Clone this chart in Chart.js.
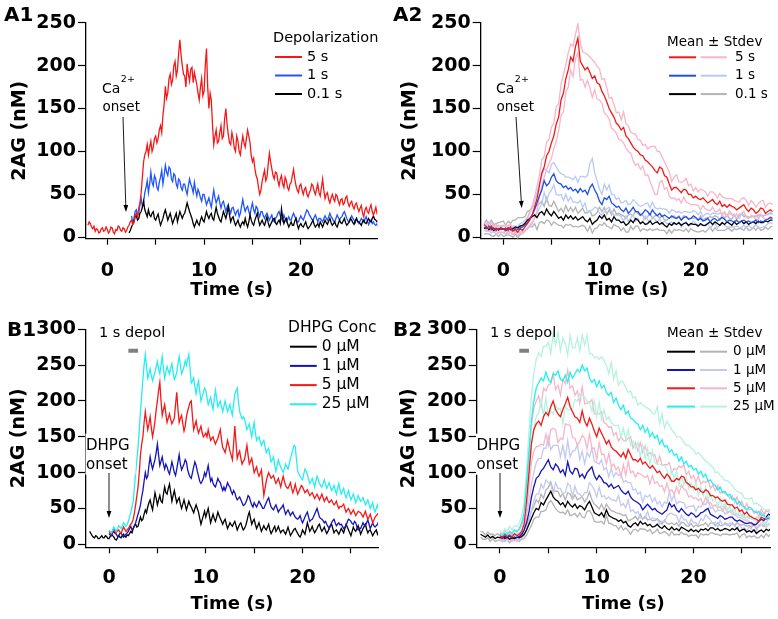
<!DOCTYPE html>
<html lang="en">
<head>
<meta charset="UTF-8" />
<title>2AG time courses</title>
<script src="https://cdn.jsdelivr.net/npm/chart.js"></script>
<style>
  html, body { margin: 0; padding: 0; background: #fff; }
  #wrap { position: relative; width: 778px; height: 619px; }
  #wrap canvas { position: absolute; left: 0; top: 0; }
</style>
</head>
<body>
<div id="wrap">
  <canvas id="a1" width="778" height="619"></canvas>
  <canvas id="a2" width="778" height="619"></canvas>
  <canvas id="b1" width="778" height="619"></canvas>
  <canvas id="b2" width="778" height="619"></canvas>
</div>
<script>
// traces start at -2 s; single-cell traces (A1, B1) have one value each 0.125 s
// (16 per row below), the averaged traces (A2, B2) one value each 0.25 s (8 per row)
const T_START = -2, STEP_CELL = 0.125, STEP_MEAN = 0.25;
const xTicks = [0, 5, 10, 15, 20, 25];
const xLabels = [0, 10, 20];
const yTicksA = [0, 50, 100, 150, 200, 250];
const yTicksB = [0, 50, 100, 150, 200, 250, 300];
const aLabels = ['5 s', '1 s', '0.1 s'];
const bLabels = ['0 \u00b5M', '1 \u00b5M', '5 \u00b5M', '25 \u00b5M'];
const depolTimes = [2, 3];   // 1 s depolarization
const depolLevel = [270, 270];

// ---- A1: single cells, 2AG (nM)
const a1Red5s = [
  14, 18, 16, 12, 10, 13, 7, 10, 9, 5, 6, 10, 11, 7, 8, 12,
  9, 5, 7, 12, 11, 6, 4, 9, 8, 13, 12, 8, 7, 11, 10, 6,
  8, 12, 14, 18, 20, 15, 17, 25, 28, 24, 34, 40, 52, 70, 88, 96,
  100, 108, 96, 105, 112, 100, 105, 115, 118, 110, 115, 125, 130, 122, 142, 155,
  176, 162, 168, 185, 190, 178, 183, 200, 205, 188, 195, 215, 230, 212, 200, 190,
  188, 175, 202, 190, 182, 196, 198, 180, 192, 185, 178, 168, 160, 175, 185, 165,
  170, 200, 220, 175, 150, 168, 160, 130, 108, 118, 125, 110, 112, 122, 130, 115,
  118, 138, 150, 132, 120, 110, 108, 122, 115, 104, 100, 118, 112, 100, 96, 108,
  118, 110, 105, 115, 125, 118, 110, 95, 88, 92, 80, 72, 68, 58, 50, 55,
  65, 72, 78, 66, 70, 85, 98, 88, 80, 72, 68, 76, 75, 66, 60, 68,
  72, 62, 58, 70, 66, 58, 55, 62, 64, 72, 79, 68, 60, 55, 52, 60,
  62, 55, 50, 56, 58, 50, 47, 52, 55, 62, 60, 54, 50, 56, 62, 52,
  48, 58, 68, 55, 45, 50, 52, 44, 40, 46, 50, 45, 42, 50, 48, 42,
  38, 44, 45, 38, 40, 46, 48, 40, 36, 40, 42, 36, 33, 38, 40, 34,
  30, 34, 37, 28, 24, 32, 35, 30, 28, 34, 38, 30, 26, 30, 35, 28,
  30];
const a1Blue1s = [
  null, null, null, null, null, null, null, null, null, null, null, null, null, null, null, null,
  null, null, null, null, null, null, null, null, null, null, null, null, null, null, null, null,
  null, null, null, null, 25, 18, 22, 30, 32, 26, 28, 38, 45, 36, 40, 52,
  58, 66, 52, 62, 76, 64, 60, 72, 68, 58, 55, 64, 70, 78, 62, 72,
  84, 76, 72, 82, 80, 68, 65, 74, 72, 62, 58, 68, 66, 58, 55, 62,
  62, 55, 50, 60, 68, 62, 58, 52, 64, 55, 48, 56, 52, 46, 42, 50,
  50, 44, 38, 42, 46, 40, 35, 45, 55, 46, 40, 44, 48, 40, 34, 40,
  42, 36, 30, 35, 38, 32, 28, 34, 35, 30, 26, 30, 32, 24, 28, 36,
  44, 36, 30, 34, 36, 30, 26, 34, 40, 32, 28, 36, 34, 28, 24, 30,
  30, 25, 22, 26, 28, 24, 20, 23, 26, 20, 18, 22, 24, 28, 30, 25,
  22, 19, 26, 22, 18, 21, 24, 20, 20, 25, 28, 24, 22, 18, 18, 22,
  25, 22, 20, 24, 28, 32, 30, 26, 24, 21, 20, 23, 26, 22, 18, 22,
  22, 20, 18, 22, 25, 22, 20, 24, 28, 24, 22, 19, 18, 22, 26, 23,
  20, 23, 24, 28, 30, 26, 22, 19, 18, 22, 25, 22, 20, 17, 22, 19,
  16, 19, 22, 20, 18, 21, 24, 19, 15, 18, 20, 16, 18, 15, 14, 16,
  12];
const a1Black01s = [
  null, null, null, null, null, null, null, null, null, null, null, null, null, null, null, null,
  null, null, null, null, null, null, null, null, null, null, null, null, null, null, null, null,
  null, null, 5, 8, 12, 15, 18, 24, 25, 20, 22, 28, 30, 35, 42, 32,
  28, 24, 32, 26, 24, 28, 30, 22, 20, 24, 27, 20, 14, 18, 22, 28,
  32, 26, 20, 24, 28, 22, 16, 20, 24, 28, 18, 24, 30, 26, 22, 26,
  28, 34, 40, 35, 30, 26, 22, 16, 12, 16, 20, 16, 14, 20, 24, 20,
  18, 24, 30, 25, 22, 26, 28, 22, 20, 28, 35, 28, 24, 20, 18, 24,
  30, 26, 22, 28, 36, 26, 18, 22, 24, 18, 14, 17, 20, 15, 12, 16,
  18, 15, 22, 16, 12, 18, 26, 20, 16, 14, 20, 24, 28, 20, 14, 17,
  20, 16, 14, 19, 24, 17, 12, 15, 18, 21, 22, 17, 15, 18, 20, 16,
  33, 22, 16, 20, 22, 16, 12, 15, 18, 14, 14, 19, 22, 15, 10, 14,
  16, 13, 12, 15, 18, 13, 10, 12, 14, 17, 20, 15, 12, 14, 16, 12,
  18, 15, 12, 16, 20, 17, 15, 19, 22, 17, 14, 16, 18, 14, 12, 16,
  20, 17, 16, 19, 22, 17, 14, 16, 18, 22, 20, 17, 15, 19, 22, 18,
  18, 16, 14, 18, 20, 17, 16, 19, 22, 19, 18, 22, 25, 21, 20, 18,
  20];

// ---- A2: mean and stdev
const a2RedMean = [
  15, 12, 10, 13, 9, 11, 8, 10,
  9, 11, 8, 12, 7, 9, 6, 10,
  8, 12, 16, 20, 26, 35, 45, 60,
  75, 82, 95, 100, 110, 118, 132, 140,
  160, 168, 185, 195, 210, 205, 222, 232,
  205, 200, 195, 198, 192, 185, 188, 180,
  178, 170, 165, 158, 150, 145, 140, 133,
  130, 125, 128, 118, 115, 110, 105, 102,
  100, 96, 95, 90, 88, 85, 82, 78,
  75, 82, 80, 72, 70, 62, 55, 58,
  58, 55, 52, 56, 55, 50, 50, 46,
  48, 45, 44, 46, 43, 40, 42, 44,
  40, 38, 42, 36, 38, 35, 38, 36,
  35, 32, 34, 36, 38, 33, 30, 34,
  32, 28, 30, 34, 33, 28, 30, 32,
  30];
const a2RedSd = [
  3, 4, 3, 5, 3, 4, 3, 4,
  4, 3, 5, 3, 4, 3, 5, 4,
  4, 5, 6, 8, 10, 12, 14, 12,
  15, 12, 16, 14, 18, 15, 20, 16,
  18, 22, 16, 20, 15, 18, 14, 17,
  22, 16, 20, 15, 18, 22, 16, 19,
  18, 14, 20, 16, 12, 18, 15, 12,
  16, 12, 18, 14, 15, 12, 16, 18,
  14, 17, 12, 18, 15, 20, 24, 28,
  25, 18, 14, 16, 12, 14, 10, 12,
  15, 10, 12, 9, 14, 10, 12, 8,
  10, 8, 12, 9, 10, 8, 11, 9,
  10, 8, 9, 11, 8, 10, 7, 9,
  8, 10, 7, 9, 8, 10, 7, 9,
  8, 7, 9, 8, 10, 7, 9, 8,
  8];
const a2BlueMean = [
  12, 10, 13, 9, 11, 8, 10, 9,
  10, 8, 11, 9, 8, 10, 9, 11,
  12, 14, 17, 22, 26, 32, 40, 48,
  55, 66, 60, 63, 70, 74, 66, 63,
  62, 58, 60, 56, 58, 54, 56, 52,
  57, 53, 55, 50, 58, 62, 55, 50,
  42, 38, 46, 44, 48, 40, 38, 35,
  36, 32, 30, 34, 28, 31, 35, 30,
  30, 26, 28, 32, 30, 26, 32, 28,
  25, 28, 24, 26, 24, 22, 25, 23,
  22, 24, 20, 23, 24, 21, 22, 25,
  23, 20, 22, 19, 20, 22, 18, 21,
  22, 19, 21, 23, 21, 18, 20, 19,
  18, 20, 17, 19, 20, 18, 19, 17,
  18, 20, 17, 19, 18, 20, 21, 23,
  22];
const a2BlueSd = [
  4, 3, 5, 4, 3, 5, 4, 3,
  4, 5, 3, 4, 5, 3, 4, 5,
  5, 6, 6, 8, 8, 10, 12, 14,
  16, 14, 18, 12, 15, 13, 16, 14,
  12, 15, 10, 14, 11, 13, 15, 12,
  14, 18, 15, 22, 28, 30, 20, 16,
  14, 12, 16, 11, 13, 10, 12, 9,
  10, 8, 11, 9, 10, 8, 9, 11,
  8, 10, 9, 7, 10, 8, 9, 7,
  8, 6, 9, 7, 8, 6, 7, 8,
  7, 6, 8, 7, 6, 8, 7, 6,
  7, 6, 8, 5, 7, 6, 8, 7,
  6, 8, 7, 5, 7, 6, 8, 7,
  6, 7, 5, 8, 6, 7, 5, 6,
  7, 5, 6, 8, 6, 7, 5, 6,
  6];
const a2BlackMean = [
  10, 12, 9, 11, 8, 10, 9, 11,
  10, 8, 11, 9, 10, 12, 11, 13,
  14, 16, 20, 22, 24, 26, 23, 28,
  30, 26, 33, 28, 25, 30, 26, 22,
  24, 20, 26, 22, 25, 21, 24, 20,
  22, 24, 20, 18, 22, 15, 18, 20,
  25, 22, 26, 20, 22, 18, 24, 20,
  20, 17, 18, 14, 16, 20, 17, 22,
  20, 16, 18, 15, 16, 19, 15, 17,
  18, 15, 17, 14, 12, 16, 14, 17,
  15, 17, 14, 16, 17, 14, 16, 15,
  15, 13, 16, 14, 14, 16, 18, 15,
  18, 16, 14, 17, 15, 18, 16, 14,
  18, 15, 17, 19, 16, 18, 15, 17,
  18, 16, 19, 17, 17, 19, 18, 20,
  20];
const a2BlackSd = [
  6, 8, 5, 9, 7, 6, 8, 7,
  9, 6, 8, 7, 10, 8, 12, 10,
  9, 8, 10, 9, 12, 10, 14, 11,
  12, 10, 13, 9, 11, 12, 10, 8,
  10, 9, 11, 8, 10, 9, 11, 8,
  9, 10, 8, 11, 9, 10, 8, 9,
  10, 8, 9, 7, 10, 8, 9, 7,
  8, 9, 7, 8, 10, 7, 8, 9,
  7, 9, 8, 6, 8, 9, 7, 8,
  8, 7, 9, 6, 8, 7, 9, 8,
  7, 8, 6, 9, 7, 8, 6, 7,
  8, 7, 9, 6, 8, 7, 6, 8,
  7, 8, 6, 9, 7, 8, 6, 7,
  8, 6, 7, 9, 8, 6, 7, 8,
  6, 8, 7, 9, 8, 7, 9, 8,
  7];

// ---- B1: DHPG concentrations, single cells
const b1Black0 = [
  18, 15, 12, 10, 9, 12, 11, 8, 8, 10, 12, 9, 9, 12, 11, 8,
  8, 11, 14, 12, 10, 7, 6, 9, 12, 10, 9, 12, 14, 11, 10, 13,
  12, 15, 18, 16, 22, 26, 28, 24, 25, 32, 38, 33, 35, 42, 48, 44,
  52, 58, 62, 54, 48, 60, 72, 64, 55, 62, 68, 60, 58, 70, 80, 72,
  70, 78, 84, 72, 60, 68, 75, 66, 58, 62, 65, 56, 50, 56, 62, 55,
  48, 54, 60, 55, 52, 48, 44, 50, 55, 50, 45, 36, 28, 34, 40, 46,
  38, 44, 50, 40, 30, 36, 42, 36, 32, 38, 45, 40, 36, 32, 28, 32,
  35, 28, 22, 26, 30, 27, 25, 29, 32, 26, 20, 24, 28, 30, 24, 20,
  22, 26, 32, 40, 45, 36, 28, 32, 35, 28, 22, 26, 30, 24, 18, 22,
  26, 22, 20, 24, 28, 20, 15, 18, 22, 25, 18, 21, 25, 20, 16, 19,
  20, 17, 14, 19, 24, 18, 12, 15, 18, 21, 22, 18, 15, 12, 10, 14,
  20, 17, 14, 22, 30, 24, 18, 21, 25, 20, 16, 19, 22, 26, 28, 22,
  18, 21, 24, 19, 15, 18, 22, 26, 28, 22, 16, 19, 20, 17, 14, 18,
  22, 19, 16, 22, 28, 24, 20, 16, 12, 18, 24, 20, 18, 22, 26, 21,
  14, 18, 22, 25, 28, 21, 16, 19, 20, 16, 12, 15, 18, 20, 14, 17,
  12];
const b1Blue1 = [
  null, null, null, null, null, null, null, null, null, null, null, null, null, null, null, null,
  15, 13, 12, 16, 18, 15, 14, 11, 12, 15, 16, 12, 10, 12, 14, 16,
  18, 22, 25, 20, 22, 26, 30, 36, 42, 48, 55, 66, 75, 88, 100, 92,
  95, 110, 122, 112, 105, 112, 118, 128, 140, 124, 110, 116, 122, 112, 105, 112,
  108, 102, 98, 106, 115, 108, 100, 96, 105, 115, 125, 112, 104, 108, 112, 118,
  115, 104, 98, 94, 92, 100, 108, 115, 110, 102, 95, 88, 85, 88, 92, 100,
  95, 102, 110, 98, 88, 92, 85, 82, 80, 86, 92, 88, 86, 80, 75, 80,
  75, 80, 86, 82, 80, 74, 70, 75, 72, 66, 62, 64, 66, 62, 58, 54,
  55, 58, 62, 68, 66, 60, 55, 52, 58, 55, 52, 56, 60, 57, 54, 50,
  50, 54, 58, 62, 65, 58, 52, 50, 48, 52, 55, 50, 45, 48, 50, 52,
  55, 48, 42, 45, 48, 44, 40, 43, 45, 41, 38, 36, 35, 37, 40, 34,
  30, 34, 38, 42, 45, 38, 32, 34, 35, 38, 42, 46, 50, 44, 38, 36,
  35, 33, 30, 32, 28, 25, 22, 26, 30, 33, 35, 30, 26, 28, 30, 27,
  28, 25, 22, 24, 26, 31, 35, 34, 32, 29, 28, 32, 30, 24, 20, 22,
  22, 26, 30, 27, 26, 30, 34, 28, 22, 26, 30, 26, 24, 26, 28, 32,
  30];
const b1Red5 = [
  null, null, null, null, null, null, null, null, null, null, null, null, null, null, null, null,
  18, 16, 14, 19, 22, 18, 16, 19, 20, 17, 15, 20, 24, 21, 18, 20,
  22, 25, 28, 30, 35, 44, 55, 68, 80, 100, 125, 140, 150, 170, 185, 172,
  160, 168, 178, 162, 150, 160, 172, 188, 200, 215, 226, 200, 180, 188, 195, 182,
  170, 176, 182, 174, 168, 172, 176, 195, 212, 188, 170, 176, 180, 168, 158, 165,
  178, 186, 192, 198, 200, 178, 160, 166, 172, 162, 155, 160, 165, 156, 150, 152,
  155, 150, 160, 152, 145, 148, 150, 144, 140, 144, 148, 154, 160, 146, 135, 132,
  128, 136, 145, 138, 130, 124, 118, 140, 165, 142, 120, 126, 130, 120, 112, 116,
  118, 128, 138, 124, 112, 116, 120, 110, 100, 104, 108, 100, 95, 99, 104, 86,
  68, 78, 88, 95, 100, 96, 92, 94, 96, 90, 85, 88, 92, 86, 80, 88,
  95, 88, 82, 79, 78, 82, 86, 78, 72, 77, 84, 76, 70, 74, 78, 82,
  80, 76, 72, 74, 76, 72, 68, 70, 72, 68, 64, 67, 70, 66, 62, 66,
  70, 65, 60, 63, 66, 61, 58, 60, 62, 58, 55, 57, 60, 54, 50, 53,
  52, 54, 56, 50, 45, 48, 50, 46, 42, 45, 48, 44, 40, 43, 46, 45,
  44, 41, 38, 42, 46, 40, 35, 38, 42, 36, 30, 34, 38, 40, 42, 44,
  45];
const b1Cyan25 = [
  null, null, null, null, null, null, null, null, null, null, null, null, null, null, null, null,
  20, 18, 16, 20, 24, 21, 18, 22, 26, 24, 22, 26, 30, 27, 25, 28,
  32, 38, 45, 52, 60, 80, 100, 118, 135, 160, 185, 208, 230, 250, 265, 248,
  232, 238, 245, 235, 228, 234, 240, 248, 255, 244, 238, 250, 262, 245, 232, 240,
  248, 242, 238, 246, 252, 240, 230, 234, 240, 252, 262, 250, 238, 242, 248, 256,
  250, 258, 265, 245, 225, 228, 232, 220, 210, 220, 228, 214, 200, 206, 212, 218,
  215, 205, 195, 200, 205, 196, 188, 202, 215, 204, 192, 196, 200, 192, 185, 192,
  200, 192, 185, 190, 195, 186, 180, 196, 210, 214, 218, 200, 185, 180, 175, 178,
  175, 168, 160, 164, 168, 158, 150, 160, 170, 156, 145, 148, 150, 144, 138, 142,
  145, 136, 128, 131, 134, 124, 115, 118, 122, 110, 102, 110, 118, 112, 108, 104,
  100, 106, 112, 108, 105, 112, 120, 126, 132, 138, 136, 118, 102, 98, 95, 92,
  90, 98, 105, 102, 98, 90, 85, 88, 92, 86, 80, 88, 95, 90, 85, 82,
  80, 85, 90, 84, 78, 82, 86, 80, 75, 78, 82, 76, 70, 78, 85, 76,
  70, 74, 78, 70, 65, 70, 75, 68, 62, 66, 70, 64, 58, 63, 68, 64,
  60, 62, 65, 60, 55, 58, 62, 56, 50, 54, 58, 50, 45, 50, 55, 48,
  42];

// ---- B2: mean and stdev
const b2BlackMean = [
  14, 12, 10, 13, 9, 11, 8, 10,
  9, 11, 8, 10, 7, 9, 8, 10,
  9, 11, 14, 20, 28, 36, 44, 50,
  48, 58, 55, 62, 68, 74, 66, 62,
  60, 55, 58, 52, 60, 55, 52, 56,
  50, 54, 52, 48, 55, 60, 52, 44,
  42, 40, 44, 38, 48, 40, 38, 36,
  35, 32, 34, 30, 32, 26, 24, 28,
  30, 26, 32, 28, 30, 26, 28, 24,
  25, 28, 24, 22, 26, 22, 20, 24,
  20, 22, 19, 24, 22, 20, 18, 21,
  18, 20, 17, 21, 20, 22, 19, 23,
  23, 20, 22, 19, 20, 22, 21, 19,
  22, 20, 23, 18, 20, 21, 17, 19,
  17, 20, 15, 18, 20, 17, 21, 19,
  22];
const b2BlackSd = [
  4, 5, 3, 4, 5, 3, 4, 5,
  3, 5, 4, 3, 5, 4, 3, 4,
  5, 4, 6, 7, 8, 10, 9, 12,
  10, 12, 9, 14, 11, 13, 10, 12,
  14, 11, 13, 10, 12, 15, 11, 13,
  12, 10, 14, 11, 9, 13, 10, 12,
  11, 9, 12, 10, 8, 11, 9, 10,
  9, 11, 8, 10, 9, 7, 10, 8,
  9, 8, 10, 7, 9, 8, 7, 9,
  8, 7, 9, 6, 8, 7, 8, 6,
  7, 8, 6, 7, 8, 6, 7, 8,
  6, 7, 8, 6, 7, 8, 6, 7,
  7, 6, 8, 7, 6, 8, 7, 6,
  8, 6, 7, 9, 7, 6, 8, 7,
  7, 8, 6, 9, 7, 8, 6, 8,
  7];
const b2BlueMean = [
  null, null, null, null, null, null, null, null,
  10, 8, 11, 9, 12, 8, 10, 9,
  11, 14, 20, 30, 45, 65, 80, 92,
  95, 102, 106, 112, 118, 108, 104, 112,
  108, 100, 104, 96, 115, 102, 98, 106,
  105, 94, 98, 92, 100, 104, 108, 96,
  90, 96, 92, 86, 85, 80, 84, 78,
  80, 82, 76, 72, 70, 74, 66, 62,
  60, 58, 55, 48, 52, 56, 52, 48,
  50, 46, 44, 42, 45, 48, 58, 52,
  55, 48, 45, 50, 46, 42, 40, 44,
  42, 38, 40, 44, 45, 48, 50, 42,
  40, 38, 36, 40, 38, 35, 36, 38,
  38, 34, 32, 34, 32, 30, 29, 30,
  30, 27, 28, 32, 35, 33, 38, 42,
  40];
const b2BlueSd = [
  4, 4, 4, 4, 4, 4, 4, 4,
  4, 5, 3, 4, 5, 4, 3, 5,
  5, 6, 8, 10, 14, 18, 20, 22,
  25, 18, 28, 22, 32, 24, 34, 26,
  30, 22, 34, 24, 30, 20, 32, 25,
  34, 24, 32, 20, 28, 18, 26, 20,
  24, 16, 26, 18, 22, 14, 22, 16,
  20, 14, 22, 15, 19, 12, 20, 14,
  17, 12, 18, 11, 16, 10, 17, 11,
  15, 10, 16, 10, 14, 9, 15, 9,
  14, 8, 15, 9, 12, 8, 13, 9,
  12, 8, 13, 8, 12, 7, 12, 8,
  11, 7, 12, 7, 11, 7, 10, 8,
  10, 7, 11, 6, 10, 7, 10, 6,
  9, 7, 10, 6, 9, 7, 8, 6,
  8];
const b2RedMean = [
  null, null, null, null, null, null, null, null,
  12, 9, 14, 11, 13, 10, 15, 12,
  14, 18, 28, 60, 100, 140, 160, 168,
  172, 166, 178, 184, 180, 192, 200, 188,
  182, 178, 188, 196, 205, 192, 185, 178,
  176, 170, 186, 172, 165, 176, 168, 158,
  150, 162, 155, 148, 140, 145, 136, 132,
  130, 126, 122, 128, 120, 132, 125, 118,
  118, 115, 120, 112, 115, 110, 106, 110,
  105, 100, 102, 96, 92, 98, 94, 88,
  88, 92, 90, 95, 94, 86, 84, 80,
  80, 76, 78, 74, 72, 76, 74, 68,
  68, 65, 66, 62, 60, 62, 56, 55,
  55, 50, 52, 46, 48, 42, 45, 40,
  38, 36, 35, 32, 38, 36, 35, 37,
  38];
const b2RedSd = [
  4, 4, 4, 4, 4, 4, 4, 4,
  4, 5, 6, 4, 5, 6, 5, 7,
  6, 8, 10, 15, 20, 26, 30, 32,
  35, 26, 40, 30, 42, 32, 38, 28,
  40, 30, 42, 28, 38, 26, 36, 30,
  38, 26, 34, 24, 32, 22, 34, 24,
  32, 20, 30, 22, 28, 18, 28, 20,
  26, 18, 28, 17, 24, 16, 25, 16,
  24, 15, 22, 16, 22, 14, 22, 14,
  20, 13, 21, 14, 19, 13, 20, 12,
  18, 12, 19, 12, 17, 11, 18, 12,
  16, 11, 17, 10, 16, 10, 16, 10,
  15, 10, 16, 9, 14, 9, 13, 9,
  13, 8, 14, 8, 12, 8, 12, 8,
  11, 7, 12, 7, 11, 7, 12, 8,
  9];
const b2CyanMean = [
  null, null, null, null, null, null, null, null,
  14, 12, 16, 13, 18, 15, 20, 17,
  22, 30, 45, 85, 130, 172, 200, 218,
  225, 232, 228, 240, 230, 226, 238, 236,
  242, 230, 228, 236, 226, 240, 232, 238,
  244, 240, 250, 242, 246, 232, 226, 230,
  220, 228, 218, 222, 212, 208, 212, 198,
  204, 194, 188, 194, 182, 186, 176, 174,
  170, 168, 160, 166, 156, 162, 150, 156,
  148, 152, 140, 146, 136, 138, 128, 132,
  124, 126, 116, 122, 112, 116, 108, 110,
  104, 106, 98, 102, 94, 98, 88, 90,
  84, 82, 76, 80, 72, 74, 68, 70,
  62, 64, 56, 60, 54, 52, 48, 52,
  50, 46, 44, 46, 40, 41, 36, 38,
  35];
const b2CyanSd = [
  4, 4, 4, 4, 4, 4, 4, 4,
  5, 4, 6, 5, 7, 5, 6, 8,
  8, 10, 14, 20, 28, 34, 38, 40,
  42, 30, 48, 36, 52, 40, 56, 42,
  54, 40, 60, 44, 38, 52, 42, 36,
  44, 30, 42, 36, 46, 34, 40, 30,
  42, 30, 44, 34, 38, 30, 42, 32,
  38, 28, 40, 32, 36, 26, 38, 30,
  36, 26, 38, 28, 36, 28, 38, 26,
  34, 40, 28, 36, 26, 34, 38, 28,
  32, 24, 34, 26, 30, 22, 30, 24,
  28, 20, 30, 22, 26, 18, 26, 20,
  24, 18, 25, 16, 22, 15, 21, 16,
  20, 13, 18, 12, 17, 12, 16, 11,
  15, 10, 14, 9, 13, 8, 12, 9,
  10];

// ---- colours
const RED = '#f51818', PINK = '#f7b6c8';
const BLUE_A1 = '#2054ff', BLUE_A2 = '#1f50e6', LIGHTBLUE_A = '#b9c9f3';
const BLUE_B = '#1414b8', LIGHTBLUE_B = '#c3c9f1';
const CYAN = '#26eef0', MINT = '#b3f3df', GREY = '#b3b3b3';
const FONT = '"DejaVu Sans", Arial, sans-serif';

function points(values, step) {
  return values.map((v, i) => ({ x: T_START + i * step, y: v }));
}
function offsetBy(mean, sd, sign) {
  return mean.map((m, i) => (m == null ? null : m + sign * sd[i]));
}
function trace(values, step, color, order, width) {
  return { data: points(values, step), borderColor: color, borderWidth: width || 1.3,
           pointRadius: 0, tension: 0, order: order, spanGaps: false };
}
function sdTraces(mean, sd, color, order) {
  return [trace(offsetBy(mean, sd, 1), STEP_MEAN, color, order, 1.3),
          trace(offsetBy(mean, sd, -1), STEP_MEAN, color, order, 1.3)];
}
function depolBar() {
  return { data: depolTimes.map((t, i) => ({ x: t, y: depolLevel[i] })),
           borderColor: '#808080', borderWidth: 4, pointRadius: 0, order: 0 };
}

// ---- drawing helpers for labels, legend, arrows
function text(ctx, s, x, y, size, bold, base) {
  ctx.font = (bold ? 'bold ' : '') + size + 'px ' + FONT;
  ctx.fillStyle = '#000';
  ctx.textAlign = 'left';
  ctx.textBaseline = base || 'middle';
  ctx.fillText(s, x, y);
  return ctx.measureText(s).width;
}
function seg(ctx, x1, x2, y, color) {
  ctx.strokeStyle = color;
  ctx.lineWidth = 2;
  ctx.beginPath(); ctx.moveTo(x1, y); ctx.lineTo(x2, y); ctx.stroke();
}
function arrow(ctx, x1, y1, x2, y2) {
  const a = Math.atan2(y2 - y1, x2 - x1), L = 7, W = 2.4;
  const bx = x2 - L * Math.cos(a), by = y2 - L * Math.sin(a);
  ctx.strokeStyle = '#000'; ctx.fillStyle = '#000'; ctx.lineWidth = 0.9;
  ctx.beginPath(); ctx.moveTo(x1, y1); ctx.lineTo(bx, by); ctx.stroke();
  ctx.beginPath(); ctx.moveTo(x2, y2);
  ctx.lineTo(bx + W * Math.sin(a), by - W * Math.cos(a));
  ctx.lineTo(bx - W * Math.sin(a), by + W * Math.cos(a));
  ctx.closePath(); ctx.fill();
}
function legend(ctx, L) {
  text(ctx, L.title, L.x, L.titleY, L.size);
  L.labels.forEach((lab, i) => {
    const y = L.y0 + i * L.dy;
    seg(ctx, L.dark[0], L.dark[1], y, L.colors[i]);
    if (L.light) seg(ctx, L.light[0], L.light[1], y, L.lightColors[i]);
    text(ctx, lab, L.labelX, y, L.size);
  });
}
function caOnset(ctx, x, y) {
  const w = text(ctx, 'Ca', x, y, 14);
  text(ctx, '2+', x + w + 0.5, y - 9, 9.5);
  text(ctx, 'onset', x + 0.5, y + 18, 13.5);
}
function dhpgOnset(ctx, x, y) {
  ctx.fillStyle = '#fff';
  ctx.fillRect(x - 0.5, y - 12, 50, 41);
  text(ctx, 'DHPG', x, y, 15);
  text(ctx, 'onset', x, y + 19.5, 15);
}

function panel(id, o) {
  const tickFont = { family: FONT, size: 19, weight: 'bold' };
  return new Chart(document.getElementById(id), {
    type: 'line',
    data: { datasets: o.datasets },
    options: {
      responsive: false,
      animation: false,
      events: [],
      layout: { padding: o.pad },
      plugins: { legend: { display: false }, tooltip: { enabled: false } },
      scales: {
        x: {
          type: 'linear', min: o.xMin, max: o.xMax,
          afterBuildTicks: s => { s.ticks = xTicks.map(v => ({ value: v })); },
          afterFit: s => { s.height = o.xH; },
          ticks: { color: '#000', font: tickFont, padding: o.xPad, maxRotation: 0, autoSkip: false,
                   callback: v => (xLabels.includes(v) ? String(v) : '') },
          grid: { drawOnChartArea: false, tickLength: 6, tickColor: '#000', tickWidth: 1.2 },
          border: { color: '#000', width: 1.3 },
          title: { display: true, text: 'Time (s)', color: '#000', padding: 0,
                   font: { family: FONT, size: 18, weight: 'bold' } }
        },
        y: {
          type: 'linear', min: o.yMin, max: o.yMax,
          afterBuildTicks: s => { s.ticks = o.yTicks.map(v => ({ value: v })); },
          afterFit: s => { s.width = o.yW; },
          ticks: { color: '#000', font: tickFont, padding: 2 },
          grid: { drawOnChartArea: false, tickLength: 8, tickColor: '#000', tickWidth: 1.2 },
          border: { color: '#000', width: 1.3 },
          title: { display: true, text: '2AG (nM)', color: '#000', padding: 0,
                   font: { family: FONT, size: 19, weight: 'bold' } }
        }
      }
    },
    plugins: [{ id: 'decor', afterDraw: c => { c.ctx.save(); o.decor(c.ctx); c.ctx.restore(); } }]
  });
}

// A1
panel('a1', {
  pad: { left: 8.6, right: 400.7, top: 22.7, bottom: 318.2 },
  xMin: -2.2, xMax: 27.9, xH: 62.1, xPad: 15, yMin: -1.63, yMax: 250, yW: 77.4, yTicks: yTicksA,
  datasets: [
    trace(a1Red5s, STEP_CELL, RED, 1),
    trace(a1Black01s, STEP_CELL, '#000', 2),
    trace(a1Blue1s, STEP_CELL, BLUE_A1, 3)
  ],
  decor: ctx => {
    text(ctx, 'A1', 4, 21, 20, true, 'alphabetic');
    caOnset(ctx, 102, 89);
    arrow(ctx, 123, 117, 126, 212);
    legend(ctx, { title: 'Depolarization', x: 273, titleY: 38, size: 14.5, labels: aLabels,
                  y0: 57, dy: 18.5, dark: [275, 302], colors: [RED, BLUE_A1, '#000'], labelX: 307 });
  }
});

// A2
panel('a2', {
  pad: { left: 399.1, right: 5.3, top: 22.7, bottom: 318.2 },
  xMin: -2.35, xMax: 28.0, xH: 62.1, xPad: 15, yMin: -1.63, yMax: 250, yW: 81.6, yTicks: yTicksA,
  datasets: [
    trace(a2RedMean, STEP_MEAN, RED, 1),
    trace(a2BlueMean, STEP_MEAN, BLUE_A2, 2),
    trace(a2BlackMean, STEP_MEAN, '#000', 3),
    ...sdTraces(a2RedMean, a2RedSd, PINK, 4),
    ...sdTraces(a2BlueMean, a2BlueSd, LIGHTBLUE_A, 5),
    ...sdTraces(a2BlackMean, a2BlackSd, GREY, 6)
  ],
  decor: ctx => {
    text(ctx, 'A2', 393, 21, 20, true, 'alphabetic');
    caOnset(ctx, 496, 89);
    arrow(ctx, 516, 117, 521.7, 208);
    legend(ctx, { title: 'Mean \u00b1 Stdev', x: 667, titleY: 42, size: 13.5, labels: aLabels,
                  y0: 57.3, dy: 18.4, dark: [669, 696], colors: [RED, BLUE_A2, '#000'],
                  light: [700.7, 726.7], lightColors: [PINK, LIGHTBLUE_A, GREY], labelX: 735 });
  }
});

// B1
panel('b1', {
  pad: { left: 8.1, right: 400, top: 329.3, bottom: 4.2 },
  xMin: -2.38, xMax: 27.8, xH: 67.5, xPad: 13, yMin: -4.2, yMax: 300, yW: 77.9, yTicks: yTicksB,
  datasets: [
    depolBar(),
    trace(b1Cyan25, STEP_CELL, CYAN, 1),
    trace(b1Red5, STEP_CELL, RED, 2),
    trace(b1Blue1, STEP_CELL, BLUE_B, 3),
    trace(b1Black0, STEP_CELL, '#000', 4)
  ],
  decor: ctx => {
    text(ctx, 'B1', 7, 336, 20, true, 'alphabetic');
    text(ctx, '1 s depol', 99, 333, 14.5);
    dhpgOnset(ctx, 86, 445.7);
    arrow(ctx, 109, 473, 109, 518);
    legend(ctx, { title: 'DHPG Conc', x: 288, titleY: 328, size: 15.5, labels: bLabels,
                  y0: 346.7, dy: 19.2, dark: [290, 316.7], colors: ['#000', BLUE_B, RED, CYAN], labelX: 321.7 });
  }
});

// B2
panel('b2', {
  pad: { left: 398.1, right: 8, top: 329.3, bottom: 4.2 },
  xMin: -2.4, xMax: 27.9, xH: 67.5, xPad: 13, yMin: -4.2, yMax: 300, yW: 78.6, yTicks: yTicksB,
  datasets: [
    depolBar(),
    trace(b2CyanMean, STEP_MEAN, CYAN, 1),
    trace(b2RedMean, STEP_MEAN, RED, 2),
    trace(b2BlueMean, STEP_MEAN, BLUE_B, 3),
    trace(b2BlackMean, STEP_MEAN, '#000', 4),
    ...sdTraces(b2CyanMean, b2CyanSd, MINT, 5),
    ...sdTraces(b2RedMean, b2RedSd, PINK, 6),
    ...sdTraces(b2BlueMean, b2BlueSd, LIGHTBLUE_B, 7),
    ...sdTraces(b2BlackMean, b2BlackSd, GREY, 8)
  ],
  decor: ctx => {
    text(ctx, 'B2', 393, 336, 20, true, 'alphabetic');
    text(ctx, '1 s depol', 490, 333, 14.5);
    dhpgOnset(ctx, 476.5, 445.7);
    arrow(ctx, 500, 473, 500, 518);
    legend(ctx, { title: 'Mean \u00b1 Stdev', x: 667, titleY: 333, size: 13.5, labels: bLabels,
                  y0: 351.7, dy: 18.3, dark: [667, 695], colors: ['#000', BLUE_B, RED, CYAN],
                  light: [700, 727], lightColors: [GREY, LIGHTBLUE_B, PINK, MINT], labelX: 733 });
  }
});
</script>
</body>
</html>
